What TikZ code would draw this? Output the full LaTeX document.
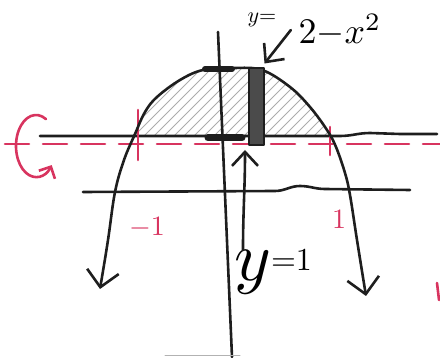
\documentclass[tikz,border=0pt]{standalone}
\usepackage{amsmath,amssymb}
\usepackage{xcolor}
\usepackage{tikz}
\usetikzlibrary{arrows.meta,positioning}
\definecolor{inkred}{HTML}{D8345F}
\definecolor{ink}{HTML}{1E1E1E}

\begin{document}
\begin{tikzpicture}[x=1pt, y=-1pt, line cap=round, line join=round,
    pen/.style={draw=ink, line width=2.6pt},
    redpen/.style={draw=inkred, line width=2.6pt},
    barb/.style={-{Straight Barb[length=14pt,width=26pt]}},
    bigbarb/.style={{Straight Barb[length=16pt,width=32pt]}-{Straight Barb[length=16pt,width=32pt]}}]
    \useasboundingbox (0,0) rectangle (440,358);

    % shaded region above y=1
    \begin{scope}
        \clip plot[smooth, tension=0.6] coordinates {(135,137) (145,112) (157,97) (180,80) (203,70) (233,68) (262,70) (290,87) (310,107) (327,130) (332,137)} -- cycle;
        \foreach \i in {0,10,...,300}
            \draw[gray!65, line width=0.8pt] (40+\i,150) -- ++(100,-100);
    \end{scope}

    % axes and lines
    \draw[pen] (218,32) -- (232,357);
    \draw[pen] (40,136) -- (340,136) to[out=0,in=180] (370,133) -- (400,134) -- (437,134);
    \draw[pen] (83,192) -- (275,191) to[out=0,in=180] (300,186) to[out=0,in=180] (325,189) -- (410,190);
    \draw[ink, line width=6pt] (205,69) -- (232,69);
    \draw[ink, line width=7pt] (208,138) -- (242,138);
    \draw[gray!60, line width=1pt] (165,356) -- (240,356);

    % axis of rotation
    \draw[redpen, dash pattern=on 24pt off 14pt] (5,144) -- (440,144);
    \draw[redpen] (138,110) -- (138,160);
    \draw[redpen] (330,127) -- (330,155);
    \coordinate (rotc) at (36,146);
    \draw[redpen, -{Straight Barb[length=9pt,width=18pt]}] ([shift={(60:20pt and 31pt)}]rotc) arc[start angle=60, end angle=322, x radius=20pt, y radius=31pt];
    \draw[redpen] (437,283) -- (439,300);

    % the curve
    \draw[pen, bigbarb] plot[smooth, tension=0.6] coordinates {(100,289) (108,240) (115,192) (124,160) (135,134) (145,112) (157,97) (180,80) (203,70) (233,68) (262,70) (290,87) (310,107) (327,130) (336,147) (345,173) (350,195) (357,240) (366,296)};

    % the slice
    \node[draw=ink, fill=ink!80, line width=2pt, minimum width=15pt, minimum height=77pt, inner sep=0pt] (slice) at (256,107) {};

    % labels
    \node[scale=3.6, inner sep=0.3pt] (curvelab) at (340,30) {$2{-}x^2$};
    \node[scale=2.2, inner sep=0pt] (ylab) at (262,20) {$y{=}$};
    \draw[pen, barb] ([xshift=-6pt]curvelab.west) -- ([yshift=4pt]slice.north east);

    \node[inner sep=0pt, anchor=north west] (yone) at (234,250) {\scalebox{7}{$y$}\raisebox{10pt}{\scalebox{3.2}{${=}1$}}};
    \coordinate (yonetip) at (245,150);
    \draw[pen, barb] ([xshift=9pt]yone.north west) to[out=90,in=-90] (yonetip);

    \node[text=inkred, scale=2.8] (mone) at (147,228) {$-1$};
    \node[text=inkred, scale=2.8] (pone) at (339,219) {$1$};
\end{tikzpicture}
\end{document}
